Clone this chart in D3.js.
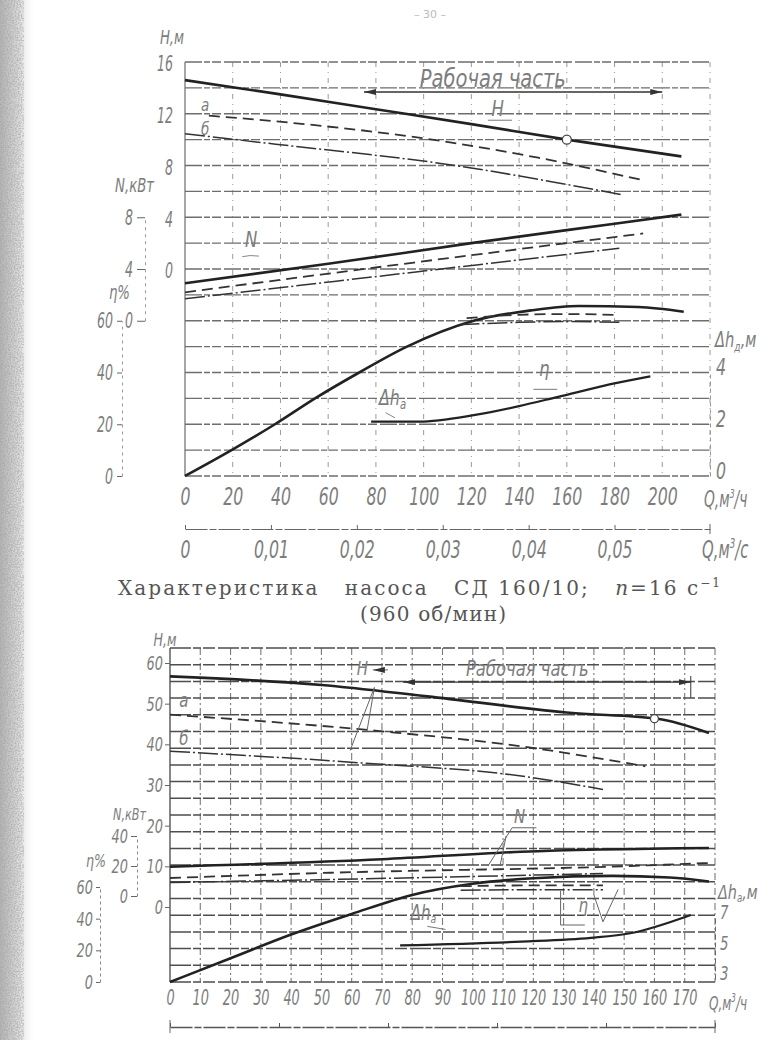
<!DOCTYPE html>
<html><head><meta charset="utf-8">
<script src="https://cdn.jsdelivr.net/npm/d3@7"></script>
<style>
body{margin:0;background:#fff;}
svg{display:block;}
.lbl,.tick text{font-family:"DejaVu Sans",sans-serif;font-style:italic;fill:#7d7d7d;}
.cap{font-family:"DejaVu Serif",serif;fill:#555;}
</style></head><body>
<script>
// ================= DATA: upper chart (СД 160/10) =================
const topQTicks   = [0,20,40,60,80,100,120,140,160,180,200];
const topQsTicks  = [0,0.01,0.02,0.03,0.04,0.05];
const topHTicks   = [0,4,8,12,16];
const topNTicks   = [0,4,8];
const topEffTicks = [0,20,40,60];
const topDhTicks  = [0,2,4];

const topH_Q   = [0,40,80,120,160,208];
const topH_v   = [14.6,13.5,12.35,11.2,10.0,8.7];
const topHa_Q  = [10,50,98,148,191];
const topHa_v  = [11.85,11.2,10.15,8.6,6.9];
const topHb_Q  = [0,38,115,164,183];
const topHb_v  = [10.45,9.65,7.95,6.4,5.75];
const topN_Q   = [0,60,120,180,208];
const topN_v   = [2.9,4.4,6.0,7.5,8.2];
const topNa_Q  = [0,96,192];
const topNa_v  = [2.2,4.5,6.75];
const topNb_Q  = [0,91,182];
const topNb_v  = [1.7,3.65,5.6];
const topEff_Q = [0,19.5,37.7,54.5,73,93,121,145,165,190,209];
const topEff_v = [0,10,20,30,40,50,60,64,65.7,65.3,63.5];
const topEffa_Q = [118,140,160,182];
const topEffa_v = [61,62.3,62.6,62.2];
const topEffb_Q = [115,140,160,182];
const topEffb_v = [58.5,59.4,59.7,59.4];
const topDh_Q  = [78,98,121,140,156,181,195];
const topDh_v  = [2.1,2.1,2.35,2.7,3.05,3.6,3.85];
const topWork  = [75,200];
const topDuty  = [160,10.0];

// ================= DATA: lower chart =================
const botQTicks   = [0,10,20,30,40,50,60,70,80,90,100,110,120,130,140,150,160,170];
const botQsTicks  = [0,0.01,0.02,0.03,0.04,0.05];
const botHTicks   = [0,10,20,30,40,50,60];
const botNTicks   = [0,20,40];
const botEffTicks = [0,20,40,60];
const botDhTicks  = [3,5,7];

const botH_Q   = [0,50,85,133,161,178];
const botH_v   = [56.7,54.6,51.8,47.7,46.3,42.8];
const botHa_Q  = [0,70,116,157];
const botHa_v  = [47.3,43.2,39.5,34.6];
const botHb_Q  = [0,62,116,143];
const botHb_v  = [38.3,35.5,32.2,28.9];
const botN_Q   = [0,70,116,178];
const botN_v   = [19.5,24.5,29.5,32.0];
const botNa_Q  = [0,53,152,178];
const botNa_v  = [12,15.5,20,22];
const botNb_Q  = [0,53,143];
const botNb_v  = [9,11,15];
const botEff_Q = [0,20,40,60,80,100,120,146,165,178];
const botEff_v = [0,15,30,43,55,62,65.5,67,66,63.5];
const botEffa_Q = [96,120,143];
const botEffa_v = [60.5,61,61];
const botEffb_Q = [96,120,143];
const botEffb_v = [58,58.3,58.3];
const botDh_Q  = [76,116,139,152,172];
const botDh_v  = [5.2,5.45,5.7,6.0,7.2];
const botWork  = [77,172];
const botDuty  = [160,46.3];

// ================= DRAWING =================
const svg = d3.select("body").append("svg").attr("width",781).attr("height",1040);
svg.append("rect").attr("width",781).attr("height",1040).attr("fill","#fff");
const defs = svg.append("defs");
const grad = defs.append("linearGradient").attr("id","edge").attr("x1",0).attr("x2",1).attr("y1",0).attr("y2",0);
grad.append("stop").attr("offset",0).attr("stop-color","#b4b4b4");
grad.append("stop").attr("offset",0.55).attr("stop-color","#dedede");
grad.append("stop").attr("offset",1).attr("stop-color","#fff").attr("stop-opacity",0);
svg.append("rect").attr("x",0).attr("y",0).attr("width",36).attr("height",1040).attr("fill","url(#edge)");
const flt = defs.append("filter").attr("id","grain").attr("x",0).attr("y",0).attr("width",1).attr("height",1);
flt.append("feTurbulence").attr("type","fractalNoise").attr("baseFrequency",0.7).attr("numOctaves",2).attr("seed",4);
flt.append("feColorMatrix").attr("type","matrix").attr("values","0 0 0 0 0.35 0 0 0 0 0.35 0 0 0 0 0.35 0 0 0 -3 1.9");
svg.append("rect").attr("x",0).attr("y",0).attr("width",24).attr("height",1040).attr("filter","url(#grain)").attr("opacity",0.55);

const mk = defs.append("marker").attr("id","arr").attr("viewBox","0 0 12 6").attr("refX",12).attr("refY",3)
  .attr("markerWidth",12).attr("markerHeight",6).attr("markerUnits","userSpaceOnUse").attr("orient","auto-start-reverse");
mk.append("path").attr("d","M0,0L12,3L0,6Z").attr("fill","#333");

const lineGen = d3.line().curve(d3.curveMonotoneX);
function plot(g, xs, ys, qs, vs, kind){
  const p = g.append("path").attr("fill","none")
    .attr("d", lineGen(qs.map((q,i)=>[xs(q), ys(vs[i])])));
  if(kind==="main") p.attr("stroke","#222").attr("stroke-width",2.6);
  else if(kind==="dash") p.attr("stroke","#333").attr("stroke-width",1.8).attr("stroke-dasharray","11 6");
  else p.attr("stroke","#333").attr("stroke-width",1.5).attr("stroke-dasharray","20 3 2 3");
  return p;
}
function lbl(g, x, y, size, sx, anchor){
  return g.append("text").attr("class","lbl").attr("transform",`translate(${x},${y}) scale(${sx},1)`)
    .attr("text-anchor",anchor||"start").attr("font-size",size);
}
// condensed tick labels: horizontal scale so each digit is about cw px wide
function styleTicks(sel, size, cw){
  const sx = cw/(0.636*size);
  sel.selectAll(".tick text").attr("font-size",size)
    .each(function(){ const t=d3.select(this); const x0 = +(t.attr("x")||0);
      t.attr("x", x0/sx).attr("transform",`scale(${sx},1)`); });
  sel.selectAll(".tick line").attr("stroke","#666").attr("stroke-width",1);
}
const fmtQs = d => d===0 ? "0" : d3.format(".2f")(d).replace(".",",");
const fmtInt = d3.format("d");

// ---------- upper chart ----------
{
  const g = svg.append("g");
  const x = d3.scaleLinear().domain([0,220]).range([185,710]);
  const gy = d3.scaleLinear().domain([0,16]).range([62,476]);
  const yH = d3.scaleLinear().domain([0,16]).range([gy(8),gy(0)]);
  const yN = d3.scaleLinear().domain([0,8]).range([gy(10),gy(6)]);
  const yE = d3.scaleLinear().domain([0,60]).range([gy(16),gy(10)]);
  const yD = d3.scaleLinear().domain([0,4]).range([gy(16),gy(12)]);
  const xs = d3.scaleLinear().domain([0,220/3600]).range([185,710]);

  // grid
  g.append("g").selectAll("line").data(d3.range(0,221,20)).join("line")
    .attr("x1",d=>x(d)).attr("x2",d=>x(d)).attr("y1",gy(0)).attr("y2",gy(16))
    .attr("stroke",d=>d===0?"#777":"#9a9a9a").attr("stroke-width",d=>d===0?1.3:1)
    .attr("stroke-dasharray",d=>d===0?null:"5 5 1 5");
  g.append("g").selectAll("line").data(d3.range(17)).join("line")
    .attr("x1",x(0)).attr("x2",x(220)).attr("y1",d=>gy(d)).attr("y2",d=>gy(d))
    .attr("stroke","#6e6e6e").attr("stroke-width",1.3).attr("stroke-dasharray","17 2 6 2 9 3");

  // x axis (m3/h)
  const ax = g.append("g").attr("transform","translate(0,505)")
    .call(d3.axisBottom(x).tickValues(topQTicks).tickSize(0).tickPadding(0));
  ax.select(".domain").remove();
  ax.selectAll(".tick text").attr("y",0).attr("dy",0);
  styleTicks(ax, 25, 10);
  const ql = lbl(g, x(220)-6, 507, 23, 0.6, "start");
  ql.append("tspan").text("Q,м"); ql.append("tspan").attr("font-size",13).attr("dy",-9).text("3");
  ql.append("tspan").attr("dy",9).text("/ч");

  // second x axis (m3/s)
  const ax2 = g.append("g").attr("transform","translate(0,529)")
    .call(d3.axisTop(xs).tickValues(topQsTicks).tickSize(4).tickSizeOuter(0).tickFormat(fmtQs));
  ax2.select(".domain").attr("stroke","#666").attr("stroke-dasharray","22 2 7 2");
  ax2.selectAll(".tick text").attr("y",29).attr("dy",0);
  styleTicks(ax2, 24, 10);
  g.append("line").attr("x1",xs(220/3600)).attr("x2",xs(220/3600)).attr("y1",524).attr("y2",534).attr("stroke","#666");
  const ql2 = lbl(g, xs(220/3600)-8, 558, 24, 0.62, "start");
  ql2.append("tspan").text("Q,м"); ql2.append("tspan").attr("font-size",14).attr("dy",-10).text("3");
  ql2.append("tspan").attr("dy",10).text("/с");

  // left axes
  const aH = g.append("g").attr("transform",`translate(${x(0)},0)`)
    .call(d3.axisLeft(yH).tickValues(topHTicks).tickSize(0).tickPadding(12).tickFormat(fmtInt));
  aH.select(".domain").remove();
  aH.selectAll(".tick text").attr("dy","0.4em");
  styleTicks(aH, 22, 8);
  lbl(g, 172, 44, 19, 0.7, "middle").text("H,м");

  const aN = g.append("g").attr("transform","translate(145,0)")
    .call(d3.axisLeft(yN).tickValues(topNTicks).tickSize(8).tickSizeOuter(0).tickPadding(4).tickFormat(fmtInt));
  aN.select(".domain").attr("stroke","#999").attr("stroke-dasharray","3 4");
  styleTicks(aN, 22, 8);
  lbl(g, 154, 192, 19, 0.7, "end").text("N,кВт");

  const aE = g.append("g").attr("transform","translate(122,0)")
    .call(d3.axisLeft(yE).tickValues(topEffTicks).tickSize(5).tickSizeOuter(0).tickPadding(4).tickFormat(fmtInt));
  aE.select(".domain").attr("stroke","#999").attr("stroke-dasharray","3 4");
  styleTicks(aE, 22, 8);
  lbl(g, 130, 299, 19, 0.7, "end").text("η%");

  // right axis Δh
  const aD = g.append("g").attr("transform",`translate(${x(220)},0)`)
    .call(d3.axisRight(yD).tickValues(topDhTicks).tickSize(0).tickPadding(6).tickFormat(fmtInt));
  aD.select(".domain").attr("stroke","#999").attr("stroke-dasharray","4 3");
  aD.selectAll(".tick text").attr("dy","0.1em");
  styleTicks(aD, 23, 10);
  const dl = lbl(g, x(220)+5, 347, 21, 0.7, "start");
  dl.append("tspan").text("Δh"); dl.append("tspan").attr("font-size",13).attr("dy",4).text("д");
  dl.append("tspan").attr("dy",-4).text(",м");

  // curves
  plot(g, x, yH, topH_Q, topH_v, "main");
  plot(g, x, yH, topHa_Q, topHa_v, "dash");
  plot(g, x, yH, topHb_Q, topHb_v, "dd");
  plot(g, x, yN, topN_Q, topN_v, "main");
  plot(g, x, yN, topNa_Q, topNa_v, "dash");
  plot(g, x, yN, topNb_Q, topNb_v, "dd");
  plot(g, x, yE, topEff_Q, topEff_v, "main");
  plot(g, x, yE, topEffa_Q, topEffa_v, "dash");
  plot(g, x, yE, topEffb_Q, topEffb_v, "dd");
  plot(g, x, yD, topDh_Q, topDh_v, "main").attr("stroke-width",2.2);
  g.append("circle").attr("cx",x(topDuty[0])).attr("cy",yH(topDuty[1])).attr("r",4.5)
    .attr("fill","#fff").attr("stroke","#444").attr("stroke-width",1.3);

  // working range
  g.append("line").attr("x1",x(topWork[0])).attr("x2",x(topWork[1])).attr("y1",yH(13.68)).attr("y2",yH(13.68))
    .attr("stroke","#333").attr("stroke-width",1.4).attr("marker-start","url(#arr)").attr("marker-end","url(#arr)");
  lbl(g, x(129), yH(14.1), 25, 0.78, "middle").attr("fill","#6a6a6a").text("Рабочая часть");

  // curve labels
  lbl(g, x(131), yH(11.85), 22, 0.75, "middle").text("H");
  g.append("line").attr("x1",x(127)).attr("x2",x(137)).attr("y1",yH(11.5)).attr("y2",yH(11.5)).attr("stroke","#777");
  lbl(g, x(8.4), yH(12.2), 18, 0.75, "middle").text("а");
  lbl(g, x(8.4), yH(10.35), 18, 0.75, "middle").text("б");
  lbl(g, x(27.7), yN(5.7), 22, 0.75, "middle").text("N");
  g.append("path").attr("d",`M${x(24)},${yN(4.95)} Q${x(27)},${yN(5.1)} ${x(31)},${yN(5.0)}`).attr("fill","none").attr("stroke","#888");
  lbl(g, x(150.5), yE(38.5), 22, 0.75, "middle").text("η");
  g.append("line").attr("x1",x(146)).attr("x2",x(156)).attr("y1",yE(33.5)).attr("y2",yE(33.5)).attr("stroke","#777");
  const dh1 = lbl(g, x(81.3), yD(2.74), 22, 0.72, "start");
  dh1.append("tspan").text("Δh"); dh1.append("tspan").attr("font-size",14).attr("dy",4).text("а");
  g.append("line").attr("x1",x(84)).attr("x2",x(88)).attr("y1",yD(2.45)).attr("y2",yD(2.25)).attr("stroke","#888");

  // page number
  g.append("text").attr("x",430).attr("y",18).attr("text-anchor","middle").attr("font-size",11)
    .attr("font-family","DejaVu Sans").attr("fill","#bbb").text("– 30 –");

  // caption
  const cap = g.append("text").attr("class","cap").attr("x",118).attr("y",595).attr("font-size",20)
    .style("white-space","pre").attr("textLength",602).attr("lengthAdjust","spacing");
  cap.append("tspan").text("Характеристика   насоса   СД 160/10;   ");
  cap.append("tspan").attr("font-style","italic").text("n");
  cap.append("tspan").text("=16 с");
  cap.append("tspan").attr("font-size",12).attr("dy",-8).text("−1");
  g.append("text").attr("class","cap").attr("x",360).attr("y",621).attr("font-size",20)
    .attr("textLength",146).attr("lengthAdjust","spacing").text("(960 об/мин)");
}

// ---------- lower chart ----------
{
  const g = svg.append("g");
  const x = d3.scaleLinear().domain([0,180]).range([170,715]);
  const gy = d3.scaleLinear().domain([0,20]).range([648,982]);
  const yH = d3.scaleLinear().domain([0,60]).range([907,663]);
  const yN = d3.scaleLinear().domain([0,40]).range([896,836]);
  const yE = d3.scaleLinear().domain([0,60]).range([982,887]);
  const yD = d3.scaleLinear().domain([3,7]).range([979,918]);
  const xs = d3.scaleLinear().domain([0,180/3600]).range([170,715]);

  g.append("g").selectAll("line").data(d3.range(0,181,10)).join("line")
    .attr("x1",d=>x(d)).attr("x2",d=>x(d)).attr("y1",gy(0)).attr("y2",gy(20))
    .attr("stroke",d=>d===0?"#555":"#7a7a7a").attr("stroke-width",d=>d===0?1.4:1.1)
    .attr("stroke-dasharray",d=>d===0?null:"7 3 2 3");
  g.append("g").selectAll("line").data(d3.range(21)).join("line")
    .attr("x1",x(0)).attr("x2",x(180)).attr("y1",d=>gy(d)).attr("y2",d=>gy(d))
    .attr("stroke","#4e4e4e").attr("stroke-width",1.5).attr("stroke-dasharray","21 2 8 2 12 3");

  const ax = g.append("g").attr("transform","translate(0,1005)")
    .call(d3.axisBottom(x).tickValues(botQTicks).tickSize(0).tickPadding(0));
  ax.select(".domain").remove();
  ax.selectAll(".tick text").attr("y",0).attr("dy",0);
  styleTicks(ax, 21, 8.2);
  const ql = lbl(g, x(180)-6, 1010, 20, 0.6, "start");
  ql.append("tspan").text("Q,м"); ql.append("tspan").attr("font-size",12).attr("dy",-8).text("3");
  ql.append("tspan").attr("dy",8).text("/ч");

  const ax2 = g.append("g").attr("transform","translate(0,1027)")
    .call(d3.axisTop(xs).tickValues(botQsTicks).tickSize(4).tickSizeOuter(0).tickFormat(""));
  ax2.select(".domain").attr("stroke","#555").attr("stroke-width",1.3).attr("stroke-dasharray","22 2 7 2");
  ax2.selectAll(".tick line").attr("stroke","#555");
  g.append("line").attr("x1",x(0)).attr("x2",x(0)).attr("y1",1020).attr("y2",1033).attr("stroke","#666");
  g.append("line").attr("x1",x(180)).attr("x2",x(180)).attr("y1",1020).attr("y2",1033).attr("stroke","#666");

  const aH = g.append("g").attr("transform",`translate(${x(0)},0)`)
    .call(d3.axisLeft(yH).tickValues(botHTicks).tickSize(5).tickSizeOuter(0).tickPadding(2).tickFormat(fmtInt));
  aH.select(".domain").remove(); styleTicks(aH, 20, 8.2);
  lbl(g, 165, 646, 18, 0.7, "middle").text("H,м");

  const aN = g.append("g").attr("transform","translate(137,0)")
    .call(d3.axisLeft(yN).tickValues(botNTicks).tickSize(6).tickSizeOuter(0).tickPadding(3).tickFormat(fmtInt));
  aN.select(".domain").attr("stroke","#888").attr("stroke-dasharray","3 3");
  styleTicks(aN, 20, 8.2);
  lbl(g, 146, 820, 16, 0.7, "end").text("N,кВт");

  const aE = g.append("g").attr("transform","translate(100,0)")
    .call(d3.axisLeft(yE).tickValues(botEffTicks).tickSize(4).tickSizeOuter(0).tickPadding(3).tickFormat(fmtInt));
  aE.select(".domain").attr("stroke","#888").attr("stroke-dasharray","3 3");
  styleTicks(aE, 20, 8.2);
  lbl(g, 106, 867, 18, 0.7, "end").text("η%");

  const aD = g.append("g").attr("transform",`translate(${x(180)},0)`)
    .call(d3.axisRight(yD).tickValues(botDhTicks).tickSize(0).tickPadding(5).tickFormat(fmtInt));
  aD.select(".domain").attr("stroke","#666").attr("stroke-dasharray","5 3");
  aD.selectAll(".tick text").attr("dy","0.05em");
  styleTicks(aD, 19, 8.5);
  const dl = lbl(g, x(180)+3, 899, 20, 0.72, "start");
  dl.append("tspan").text("Δh"); dl.append("tspan").attr("font-size",12).attr("dy",3).text("а");
  dl.append("tspan").attr("dy",-3).text(",м");

  plot(g, x, yH, botH_Q, botH_v, "main");
  plot(g, x, yH, botHa_Q, botHa_v, "dash");
  plot(g, x, yH, botHb_Q, botHb_v, "dd");
  plot(g, x, yN, botN_Q, botN_v, "main");
  plot(g, x, yN, botNa_Q, botNa_v, "dash");
  plot(g, x, yN, botNb_Q, botNb_v, "dd");
  plot(g, x, yE, botEff_Q, botEff_v, "main");
  plot(g, x, yE, botEffa_Q, botEffa_v, "dash");
  plot(g, x, yE, botEffb_Q, botEffb_v, "dd");
  plot(g, x, yD, botDh_Q, botDh_v, "main").attr("stroke-width",2.2);
  g.append("circle").attr("cx",x(botDuty[0])).attr("cy",yH(botDuty[1])).attr("r",4)
    .attr("fill","#fff").attr("stroke","#444").attr("stroke-width",1.3);

  g.append("line").attr("x1",x(botWork[0])).attr("x2",x(botWork[1])).attr("y1",yH(55.3)).attr("y2",yH(55.3))
    .attr("stroke","#333").attr("stroke-width",1.4).attr("marker-start","url(#arr)").attr("marker-end","url(#arr)");
  g.append("line").attr("x1",x(botWork[1])).attr("x2",x(botWork[1])).attr("y1",yH(56.8)).attr("y2",yH(51.5)).attr("stroke","#333");
  lbl(g, x(118), yH(56.9), 21, 0.78, "middle").attr("fill","#6a6a6a").text("Рабочая часть");

  lbl(g, x(63.5), yH(57.1), 20, 0.75, "middle").text("H");
  g.append("line").attr("x1",x(67)).attr("x2",x(72)).attr("y1",yH(58.3)).attr("y2",yH(58.3)).attr("stroke","#666")
    .attr("marker-start","url(#arr)");
  g.append("polyline").attr("points",[[x(67.5),yH(54)],[x(59.5),yH(38.5)]].join(" ")).attr("fill","none").attr("stroke","#666");
  g.append("polyline").attr("points",[[x(67.5),yH(54)],[x(65),yH(43)]].join(" ")).attr("fill","none").attr("stroke","#666");
  lbl(g, x(4.6), yH(49.1), 20, 0.75, "middle").text("а");
  lbl(g, x(4.6), yH(39.8), 20, 0.75, "middle").text("б");

  lbl(g, x(115.5), yN(48.5), 20, 0.75, "middle").text("N");
  g.append("polyline").attr("points",[[x(121),yN(45.5)],[x(113),yN(45.5)],[x(105),yN(20)]].join(" ")).attr("fill","none").attr("stroke","#666");
  g.append("polyline").attr("points",[[x(111),yN(40)],[x(109),yN(20)]].join(" ")).attr("fill","none").attr("stroke","#666");

  lbl(g, x(136.5), yE(44), 20, 0.75, "middle").text("η");
  g.append("polyline").attr("points",[[x(129),yE(57.5)],[x(129),yE(36)],[x(137),yE(36)]].join(" ")).attr("fill","none").attr("stroke","#666");
  g.append("polyline").attr("points",[[x(140),yE(55)],[x(143),yE(38)],[x(148),yE(58.5)]].join(" ")).attr("fill","none").attr("stroke","#666");

  const dh2 = lbl(g, x(79.5), yD(6.87), 21, 0.72, "start");
  dh2.append("tspan").text("Δh"); dh2.append("tspan").attr("font-size",13).attr("dy",3).text("а");
  g.append("line").attr("x1",x(85)).attr("x2",x(91)).attr("y1",yD(6.45)).attr("y2",yD(6.25)).attr("stroke","#777");
}
</script>
</body></html>
